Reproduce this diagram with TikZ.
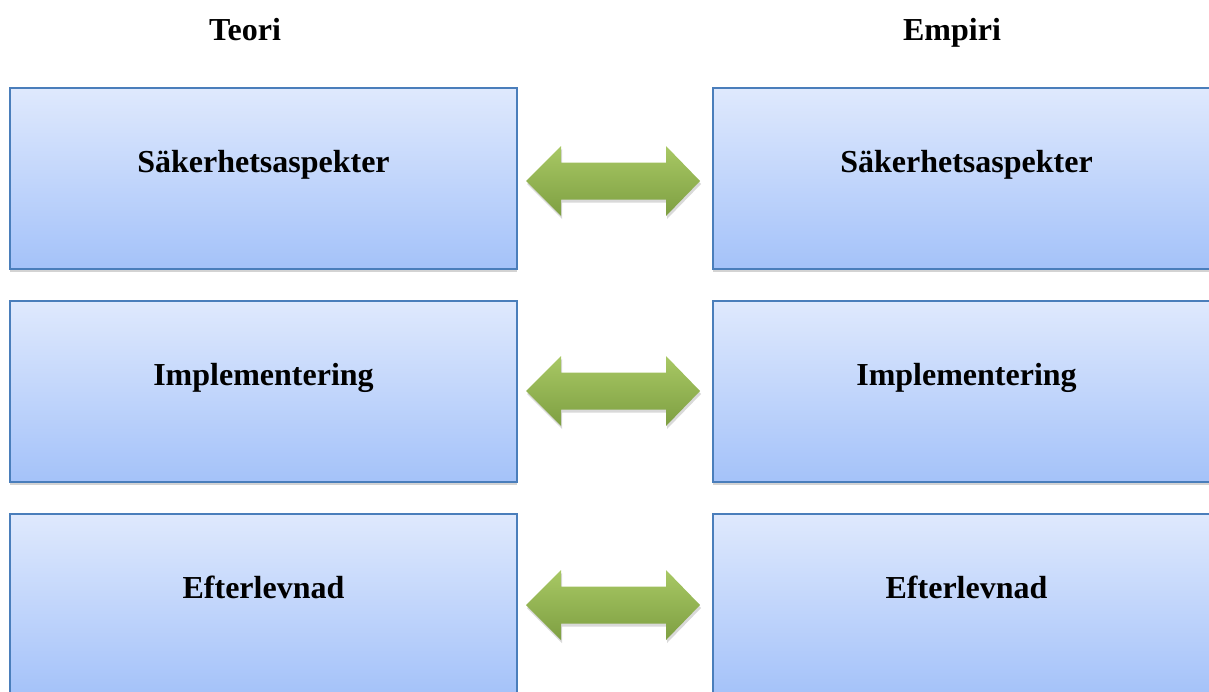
\documentclass[tikz,border=0pt]{standalone}
\usepackage{fontspec}
\setmainfont{Liberation Serif}
\usetikzlibrary{shadows}
\definecolor{boxtop}{HTML}{DFE9FD}
\definecolor{boxbot}{HTML}{A4C2F9}
\definecolor{boxline}{HTML}{4A7EBB}
\definecolor{arrtop}{HTML}{A8C864}
\definecolor{arrbot}{HTML}{7E9F42}
\tikzset{
  box/.style={draw=boxline, line width=2pt, top color=boxtop, bottom color=boxbot,
    minimum width=507pt, minimum height=181pt, anchor=north west, inner sep=0pt,
    drop shadow={opacity=0.35, shadow xshift=0pt, shadow yshift=-3pt}},
  lbl/.style={font=\fontsize{32}{36}\selectfont\bfseries, anchor=base, inner sep=0pt},
  dbl/.style={top color=arrtop, bottom color=arrbot, draw=none,
    drop shadow={opacity=0.3, shadow xshift=1pt, shadow yshift=-3pt}}
}
\newcommand\dblarrowat[1]{%
  \path[dbl] ([shift={(-87,0)}]#1) -- ([shift={(-52,-35)}]#1) -- ([shift={(-52,-18.5)}]#1)
    -- ([shift={(53,-18.5)}]#1) -- ([shift={(53,-35)}]#1) -- ([shift={(87,0)}]#1)
    -- ([shift={(53,35)}]#1) -- ([shift={(53,18.5)}]#1) -- ([shift={(-52,18.5)}]#1)
    -- ([shift={(-52,35)}]#1) -- cycle;}
\begin{document}
\begin{tikzpicture}[x=1pt,y=-1pt]
\useasboundingbox (0,0) rectangle (1209,691);
\clip (0,0) rectangle (1209,691);
\node[lbl] (hT) at (245,40) {Teori};
\node[lbl] (hE) at (952,40) {Empiri};
\foreach \i/\yy/\txt in {1/87/Säkerhetsaspekter, 2/300/Implementering, 3/513/Efterlevnad}{
  \node[box] (t\i) at (9,\yy) {};
  \node[box] (e\i) at (712,\yy) {};
  \node[lbl] (tl\i) at ([yshift=-85pt]t\i.north) {\txt};
  \node[lbl] (el\i) at ([yshift=-85pt]e\i.north) {\txt};
}
\coordinate (a1) at (613,181);
\coordinate (a2) at (613,391);
\coordinate (a3) at (613,605);
\dblarrowat{a1}
\dblarrowat{a2}
\dblarrowat{a3}
\end{tikzpicture}
\end{document}
